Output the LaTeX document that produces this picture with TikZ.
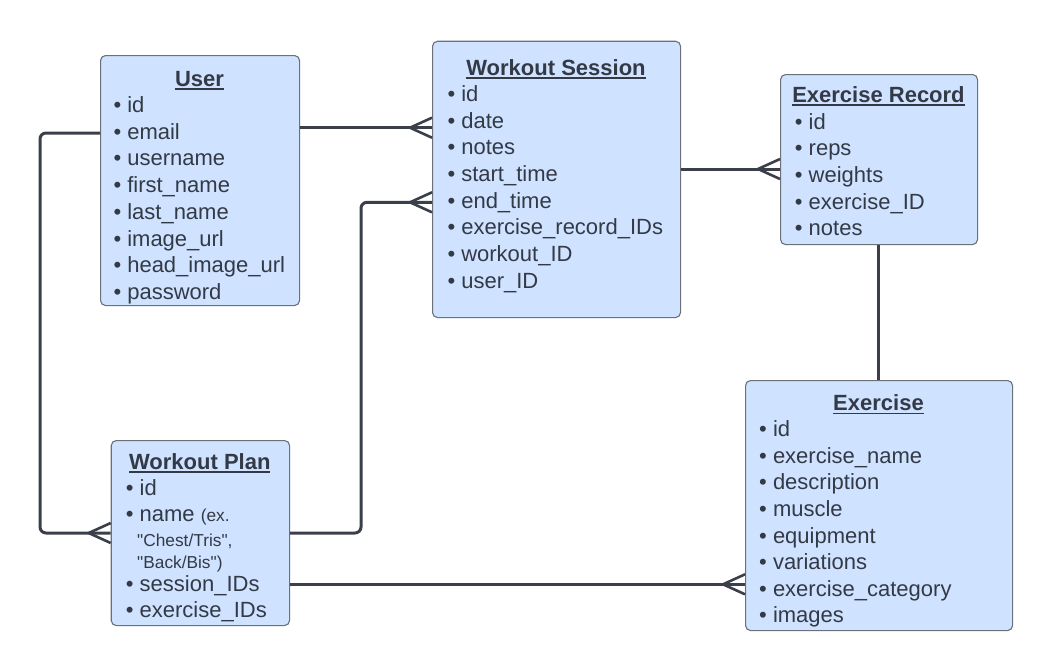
\documentclass[tikz,border=0pt]{standalone}
\usepackage{fontspec}
\setmainfont{Liberation Sans}
\newfontfamily\plainsans{Liberation Sans}
\usetikzlibrary{calc}
\definecolor{boxfill}{HTML}{CFE2FF}
\definecolor{boxline}{HTML}{6B7079}
\definecolor{txt}{HTML}{333A45}
\definecolor{relc}{HTML}{3A3F4A}
\newcommand\ttlul[1]{\setbox0\hbox{#1}\rlap{\rule[-3.6pt]{\wd0}{1.8pt}}\box0}
\begin{document}
\begin{tikzpicture}[x=1pt,y=-1pt,
 entity/.style={draw=boxline, line width=1.1pt, fill=boxfill, rounded corners=5pt, inner sep=0pt, anchor=north west},
 ttl/.style={anchor=base, inner sep=0pt, text=txt, font=\fontsize{22}{26}\selectfont\bfseries},
 item/.style={anchor=base west, inner sep=0pt, text=txt, font=\fontsize{22}{26}\selectfont},
 smalltxt/.style={anchor=base west, inner sep=0pt, text=txt, font=\plainsans\fontsize{17.3}{20}\selectfont},
 relline/.style={draw=relc, line width=3pt, rounded corners=6pt},
 foot/.style={draw=relc, line width=2.6pt},
]
\useasboundingbox (0,0) rectangle (1052,670);

% entities
\node[entity, minimum width=199, minimum height=250] (user) at (100,55) {};
\node[entity, minimum width=248, minimum height=276.3] (ws) at (432,40.7) {};
\node[entity, minimum width=197, minimum height=170] (er) at (780,74) {};
\node[entity, minimum width=267, minimum height=250] (ex) at (745,380) {};
\node[entity, minimum width=178.3, minimum height=185] (wp) at (110.7,440) {};

% titles
\node[ttl] (user-t) at (199.5,86) {\ttlul{User}};
\node[ttl] (ws-t) at (556,75.3) {\ttlul{Workout Session}};
\node[ttl] (er-t) at (878.5,102.3) {\ttlul{Exercise Record}};
\node[ttl] (ex-t) at (878.5,410.7) {\ttlul{Exercise}};
\node[ttl] (wp-t) at (199.8,469.3) {\ttlul{Workout Plan}};

% attributes
\foreach \t [count=\i from 0] in {id,email,username,first\_name,last\_name,image\_url,head\_image\_url,password}
  \node[item] (user-\i) at (113.3,112.5+\i*26.7) {\textbullet\ \t};
\foreach \t [count=\i from 0] in {id,date,notes,start\_time,end\_time,exercise\_record\_IDs,workout\_ID,user\_ID}
  \node[item] (ws-\i) at (447.3,101.3+\i*26.7) {\textbullet\ \t};
\foreach \t [count=\i from 0] in {id,reps,weights,exercise\_ID,notes}
  \node[item] (er-\i) at (794.7,129+\i*26.7) {\textbullet\ \t};
\foreach \t [count=\i from 0] in {id,exercise\_name,description,muscle,equipment,variations,exercise\_category,images}
  \node[item] (ex-\i) at (759,436.7+\i*26.6) {\textbullet\ \t};
\node[item] (wp-0) at (125.7,495) {\textbullet\ id};
\node[item] (wp-1) at (125.7,521) {\textbullet\ name {\plainsans\fontsize{17.3}{20}\selectfont (ex.}};
\node[smalltxt] (wp-1a) at (137,546) {"Chest/Tris",};
\node[smalltxt] (wp-1b) at (137,568) {"Back/Bis")};
\node[item] (wp-2) at (125.7,591) {\textbullet\ session\_IDs};
\node[item] (wp-3) at (125.7,617.3) {\textbullet\ exercise\_IDs};

% level coordinates
\coordinate (y1) at (0,127.7);
\coordinate (y2) at (0,133);
\coordinate (y3) at (0,533);
\coordinate (y5) at (0,202.3);
\coordinate (y6) at (0,169);
\coordinate (y7) at (0,584.3);
\coordinate (x8) at (878,0);
\coordinate (lcol) at (40,0);
\coordinate (mcol) at (361,0);

% ends on boxes
\coordinate (c1) at (ws.west |- y1);
\coordinate (c2) at (wp.west |- y3);
\coordinate (c3) at (ws.west |- y5);
\coordinate (c4) at (er.west |- y6);
\coordinate (c5) at (ex.west |- y7);

% connectors
\draw[relline] (user.east |- y1) -- (c1);
\draw[relline] (user.west |- y2) -- (lcol |- y2) -- (lcol |- y3) -- (c2);
\draw[relline] (wp.east |- y3) -- (mcol |- y3) -- (mcol |- y5) -- (c3);
\draw[relline] (ws.east |- y6) -- (c4);
\draw[relline] (er.south -| x8) -- (ex.north -| x8);
\draw[relline] (wp.east |- y7) -- (c5);

% crow's feet
\foreach \c in {c1,c2,c3,c4,c5} {
  \draw[foot] ($(\c)+(-22,0)$) -- ($(\c)+(0,-10)$);
  \draw[foot] ($(\c)+(-22,0)$) -- ($(\c)+(0,10)$);
}
\end{tikzpicture}
\end{document}
